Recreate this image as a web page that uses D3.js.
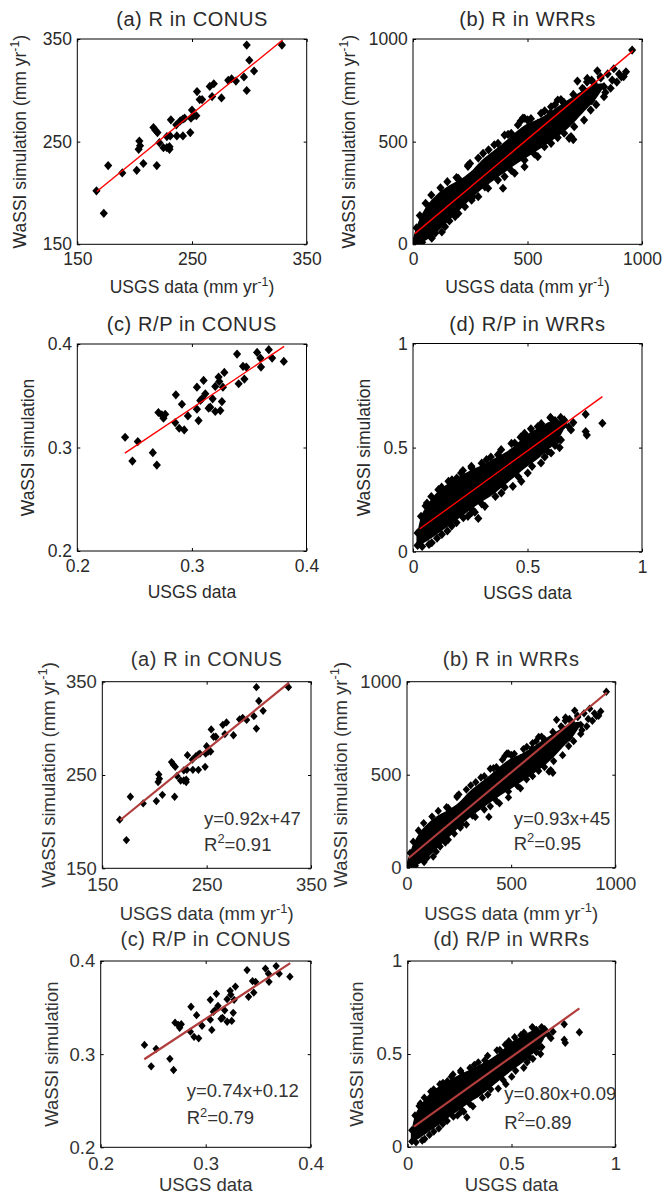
<!DOCTYPE html>
<html>
<head>
<meta charset="utf-8">
<script src="https://cdn.jsdelivr.net/npm/d3@7"></script>
<style>
body { margin: 0; background: #fff; }
svg { display: block; }
text { font-family: "Liberation Sans", Arial, Helvetica, sans-serif; }
</style>
</head>
<body>
<svg id="chart" width="662" height="1200"></svg>
<script>
// axis ticks, one list per panel
const ticksRConus = [150, 250, 350]
const ticksRWrr = [0, 500, 1000]
const ticksRpConus = [0.2, 0.3, 0.4]
const ticksRpWrr = [0, 0.5, 1]

const titles = ['(a) R in CONUS', '(b) R in WRRs', '(c) R/P in CONUS', '(d) R/P in WRRs']
const equations = ['y=0.92x+47', 'y=0.93x+45', 'y=0.74x+0.12', 'y=0.80x+0.09']
const rSquared = ['0.91', '0.95', '0.79', '0.89']

const xLabelUnits = ['USGS data (mm yr', '-1', ')']
const xLabelPlain = ['USGS data']
const yLabelUnits = ['WaSSI simulation (mm yr', '-1', ')']
const yLabelPlain = ['WaSSI simulation']

// [USGS, WaSSI] pairs
const rConus = [
	[166.7, 202.1], [173.1, 180.2], [176.9, 226.7], [189.2, 219.5], [201.8, 222.1], [204.1, 250.6],
	[204.7, 246.0], [203.5, 242.5], [207.6, 228.7], [216.4, 263.8], [218.1, 261.1], [219.9, 258.8],
	[219.3, 226.7], [221.6, 249.0], [225.1, 244.1], [228.1, 244.1], [230.4, 242.5], [230.4, 245.1],
	[228.1, 254.9], [231.0, 255.6], [231.6, 271.3], [236.3, 266.4], [236.8, 255.6], [239.8, 270.3],
	[242.1, 272.0], [242.1, 255.6], [243.6, 272.9], [248.5, 258.8], [249.1, 272.9], [250.0, 280.8],
	[251.5, 275.2], [253.8, 275.2], [254.4, 298.8], [256.7, 291.0], [258.8, 291.0], [265.5, 303.8],
	[267.5, 293.9], [269.0, 306.4], [275.7, 292.6], [281.6, 309.7], [284.5, 311.3], [288.3, 309.0],
	[295.3, 313.0], [297.7, 344.1], [297.7, 299.8], [300.0, 329.3], [304.1, 318.8], [328.4, 344.1]
]

const rpConus = [
	[0.2417, 0.3099], [0.2528, 0.3057], [0.2481, 0.2869], [0.2659, 0.2950], [0.2694, 0.2830],
	[0.2708, 0.3338], [0.2738, 0.3315], [0.2752, 0.3283], [0.2767, 0.3321], [0.2860, 0.3509],
	[0.2854, 0.3241], [0.2889, 0.3186], [0.2913, 0.3418], [0.2933, 0.3170], [0.2965, 0.3305],
	[0.3044, 0.3583], [0.3044, 0.3370], [0.3058, 0.3260], [0.3073, 0.3454], [0.3087, 0.3470],
	[0.3102, 0.3648], [0.3117, 0.3519], [0.3146, 0.3380], [0.3160, 0.3390], [0.3181, 0.3470],
	[0.3204, 0.3590], [0.3204, 0.3348], [0.3233, 0.3680], [0.3239, 0.3638], [0.3248, 0.3357],
	[0.3262, 0.3444], [0.3271, 0.3583], [0.3283, 0.3725], [0.3394, 0.3903], [0.3408, 0.3616],
	[0.3446, 0.3784], [0.3458, 0.3661], [0.3475, 0.3777], [0.3569, 0.3919], [0.3598, 0.3864],
	[0.3603, 0.3777], [0.3671, 0.3945], [0.3700, 0.3864], [0.3802, 0.3832]
]

// WRR panels: solid core of the cloud as [USGS, low, high], plus the scattered edge points
const rWrrCore = [
	[0, 0, 30], [20, 0, 100], [50, 15, 170], [100, 55, 238], [150, 108, 282], [200, 162, 312],
	[250, 218, 352], [300, 268, 410], [350, 310, 455], [400, 350, 500], [450, 390, 548],
	[500, 425, 588], [550, 462, 612], [600, 500, 646], [650, 540, 685], [700, 590, 720],
	[750, 650, 755], [800, 710, 780], [830, 760, 785]
]
const rWrr = [
	[15, 80], [30, 140], [55, 200], [80, 240], [120, 275], [150, 305], [190, 325], [240, 380],
	[285, 420], [330, 460], [355, 485], [415, 535], [470, 600], [480, 615], [500, 605], [515, 612],
	[550, 590], [575, 650], [600, 640], [620, 680], [646, 705], [660, 690], [700, 730], [718, 795],
	[740, 760], [760, 790], [780, 800], [805, 845], [820, 810], [850, 830], [877, 855], [900, 830],
	[910, 815], [930, 840], [957, 946], [790, 784], [747, 752], [834, 768], [819, 817], [761, 808],
	[241, 386], [249, 394], [198, 321], [306, 443], [371, 492], [400, 532], [429, 541], [458, 581],
	[487, 614], [501, 605], [545, 589], [559, 638], [603, 670], [632, 703], [660, 687],
	[10, 5], [40, 10], [82, 30], [126, 60], [159, 114], [198, 150], [256, 215], [262, 232],
	[314, 280], [371, 313], [393, 273], [429, 360], [487, 410], [530, 440], [574, 475], [632, 520],
	[682, 516], [690, 525], [700, 510], [747, 605], [800, 680], [863, 760], [920, 817], [890, 790],
	[780, 700], [720, 650], [840, 740], [870, 800],
	[97, 54], [140, 86], [184, 135], [227, 183], [285, 232], [328, 273], [400, 330], [444, 346],
	[487, 378], [545, 427], [603, 492], [660, 541], [704, 573], [776, 654], [834, 719]
]

const rpWrrCore = [
	[0.015, 0.035, 0.07], [0.03, 0.035, 0.15], [0.06, 0.05, 0.22], [0.10, 0.08, 0.28], [0.15, 0.12, 0.325],
	[0.20, 0.16, 0.36], [0.25, 0.20, 0.39], [0.30, 0.24, 0.415], [0.35, 0.275, 0.445], [0.40, 0.32, 0.475],
	[0.45, 0.365, 0.515], [0.50, 0.41, 0.565], [0.55, 0.45, 0.595], [0.60, 0.50, 0.625], [0.64, 0.55, 0.63],
	[0.665, 0.60, 0.615]
]
const rpWrr = [
	[0.02, 0.09], [0.035, 0.17], [0.055, 0.22], [0.08, 0.265], [0.125, 0.31], [0.17, 0.345],
	[0.21, 0.378], [0.218, 0.39], [0.255, 0.41], [0.30, 0.425], [0.34, 0.455], [0.385, 0.49],
	[0.43, 0.52], [0.47, 0.55], [0.515, 0.59], [0.56, 0.615], [0.60, 0.645], [0.645, 0.645], [0.62, 0.63],
	[0.061, 0.234], [0.111, 0.298], [0.155, 0.338], [0.191, 0.354], [0.256, 0.402], [0.321, 0.442],
	[0.371, 0.466], [0.444, 0.522], [0.487, 0.569], [0.545, 0.601], [0.603, 0.641], [0.66, 0.633],
	[0.02, 0.03], [0.04, 0.025], [0.07, 0.035], [0.105, 0.065], [0.15, 0.10], [0.19, 0.14],
	[0.24, 0.17], [0.27, 0.19], [0.285, 0.16], [0.26, 0.20], [0.30, 0.23], [0.36, 0.265],
	[0.40, 0.31], [0.473, 0.338], [0.46, 0.36], [0.52, 0.41], [0.575, 0.455], [0.588, 0.482],
	[0.62, 0.51], [0.632, 0.537], [0.66, 0.61], [0.69, 0.585], [0.68, 0.60], [0.70, 0.62],
	[0.754, 0.66], [0.754, 0.577], [0.759, 0.56], [0.827, 0.617], [0.64, 0.50], [0.60, 0.52],
	[0.082, 0.043], [0.126, 0.083], [0.169, 0.123], [0.22, 0.163], [0.256, 0.187], [0.314, 0.218],
	[0.386, 0.282], [0.436, 0.314], [0.501, 0.378], [0.559, 0.426], [0.603, 0.474], [0.646, 0.537]
]

// fitted regression lines, drawn between the end points seen in the picture
const fitRConus = [[167, 201.5], [329, 349]]
const fitRWrr = [[8, 52], [960, 942]]
const fitRpConus = [[0.2415, 0.2945], [0.3805, 0.3977]]
const fitRpWrr = [[0.03, 0.11], [0.827, 0.745]]

// where the equation and R2 text sit (data units): [x, y of equation, y of R2]
const eqAnchors = [[247.5, 196.4, 169], [512, 230, 95], [0.2819, 0.2543, 0.2245], [0.465, 0.252, 0.097]]

const panels = [
	{ ticks: ticksRConus, points: rConus, core: null, fit: fitRConus, xLabel: xLabelUnits, yLabel: yLabelUnits },
	{ ticks: ticksRWrr, points: rWrr, core: rWrrCore, fit: fitRWrr, xLabel: xLabelUnits, yLabel: yLabelUnits },
	{ ticks: ticksRpConus, points: rpConus, core: null, fit: fitRpConus, xLabel: xLabelPlain, yLabel: yLabelPlain },
	{ ticks: ticksRpWrr, points: rpWrr, core: rpWrrCore, fit: fitRpWrr, xLabel: xLabelPlain, yLabel: yLabelPlain }
]

// the same figure appears twice: a clean copy above, a copy with equations below
const figures = [
	{
		frames: [[77.3, 39, 306.7, 244.3], [413, 39, 642, 244.3], [77.3, 344, 306.5, 551], [413, 343.5, 642, 551.7]],
		yLabelX: [20, 349, 28, 364], xLabelDy: [49, 49, 47, 47],
		titleDy: -13, xTickDy: 21, yTickDx: -5.3,
		fs: 17.5, titleFs: 20, textColor: '#2a2a2a',
		marker: 4.1, fitColor: '#ff0000', fitWidth: 1.4, showEq: false
	},
	{
		frames: [[102.3, 681.7, 311, 868.3], [407, 681.7, 615.3, 867.7], [100.7, 961, 310.7, 1147.3], [407.7, 961, 615.3, 1147]],
		yLabelX: [48, 340, 51.7, 356], xLabelDy: [52, 52, 44, 44],
		titleDy: -15.5, xTickDy: 22.5, yTickDx: -5.5,
		fs: 18.5, titleFs: 20, textColor: '#333',
		marker: 3.7, fitColor: '#b03c3c', fitWidth: 2.2, showEq: true
	}
]

const diamond = {
	draw(ctx, size) {
		const r = Math.sqrt(size) / 2
		ctx.moveTo(0, -r * 1.12)
		ctx.lineTo(r, 0)
		ctx.lineTo(0, r * 1.12)
		ctx.lineTo(-r, 0)
		ctx.closePath()
	}
}

const svg = d3.select('#chart')

function richText(sel, parts, fs) {
	const shift = fs * 0.42
	parts.forEach((part, i) => {
		const t = sel.append('tspan').text(part)
		if (i % 2 === 1) t.attr('font-size', fs * 0.7).attr('dy', -shift)
		else if (i > 0) t.attr('dy', shift)
	})
}

function renderPanel(fig, i) {
	const p = panels[i]
	const [x0, y0, x1, y1] = fig.frames[i]
	const x = d3.scaleLinear().domain([p.ticks[0], p.ticks[2]]).range([x0, x1])
	const y = d3.scaleLinear().domain([p.ticks[0], p.ticks[2]]).range([y1, y0])
	const g = svg.append('g')
	const fmt = d => String(d)

	g.append('g').attr('transform', `translate(0,${y1})`)
		.call(d3.axisBottom(x).tickValues(p.ticks).tickSizeInner(-3).tickSizeOuter(0).tickPadding(fig.xTickDy - fig.fs * 0.71).tickFormat(fmt))
	g.append('g').attr('transform', `translate(${x0},0)`)
		.call(d3.axisLeft(y).tickValues(p.ticks).tickSizeInner(-3).tickSizeOuter(0).tickPadding(-fig.yTickDx).tickFormat(fmt))
	g.append('g').attr('transform', `translate(0,${y0})`)
		.call(d3.axisTop(x).tickValues(p.ticks).tickSizeInner(-3).tickSizeOuter(0).tickFormat(''))
	g.append('g').attr('transform', `translate(${x1},0)`)
		.call(d3.axisRight(y).tickValues(p.ticks).tickSizeInner(-3).tickSizeOuter(0).tickFormat(''))

	g.selectAll('.domain').remove()
	g.selectAll('.tick line').attr('stroke', '#000')
	g.selectAll('.tick text').attr('font-size', fig.fs).attr('fill', fig.textColor)
		.attr('font-family', '"Liberation Sans", Arial, sans-serif')

	const clip = `clip${fig.fs}${i}`.replace('.', '_')
	svg.append('clipPath').attr('id', clip).append('rect')
		.attr('x', x0).attr('y', y0).attr('width', x1 - x0).attr('height', y1 - y0)
	const plot = g.append('g').attr('clip-path', `url(#${clip})`)

	if (p.core) {
		plot.append('path').datum(p.core)
			.attr('fill', '#000')
			.attr('d', d3.area().curve(d3.curveMonotoneX).x(d => x(d[0])).y0(d => y(d[1])).y1(d => y(d[2])))
	}

	plot.selectAll('path.pt').data(p.points).enter().append('path')
		.attr('class', 'pt')
		.attr('transform', d => `translate(${x(d[0])},${y(d[1])})`)
		.attr('d', d3.symbol(diamond, (2 * fig.marker) ** 2))
		.attr('fill', '#000')

	plot.append('path').datum(p.fit)
		.attr('fill', 'none').attr('stroke', fig.fitColor).attr('stroke-width', fig.fitWidth)
		.attr('d', d3.line().x(d => x(d[0])).y(d => y(d[1])))

	g.append('rect').attr('x', x0).attr('y', y0).attr('width', x1 - x0).attr('height', y1 - y0)
		.attr('fill', 'none').attr('stroke', '#000').attr('stroke-width', 1)

	g.append('text')
		.attr('x', (x0 + x1) / 2).attr('y', y0 + fig.titleDy)
		.attr('text-anchor', 'middle').attr('font-size', fig.titleFs).attr('letter-spacing', 0.6)
		.attr('fill', fig.textColor)
		.text(titles[i])

	richText(g.append('text')
		.attr('x', (x0 + x1) / 2).attr('y', y1 + fig.xLabelDy[i])
		.attr('text-anchor', 'middle').attr('font-size', fig.fs).attr('fill', fig.textColor), p.xLabel, fig.fs)

	richText(g.append('text')
		.attr('transform', `translate(${fig.yLabelX[i]},${(y0 + y1) / 2}) rotate(-90)`)
		.attr('dy', '0.36em')
		.attr('text-anchor', 'middle').attr('font-size', fig.fs).attr('fill', fig.textColor), p.yLabel, fig.fs)

	if (fig.showEq) {
		const [ex, ey, ry] = eqAnchors[i]
		g.append('text').attr('x', x(ex)).attr('y', y(ey))
			.attr('font-size', fig.fs).attr('fill', fig.textColor)
			.text(equations[i])
		richText(g.append('text').attr('x', x(ex)).attr('y', y(ry))
			.attr('font-size', fig.fs).attr('fill', fig.textColor), ['R', '2', '=' + rSquared[i]], fig.fs)
	}
}

figures.forEach(fig => panels.forEach((p, i) => renderPanel(fig, i)))
</script>
</body>
</html>
